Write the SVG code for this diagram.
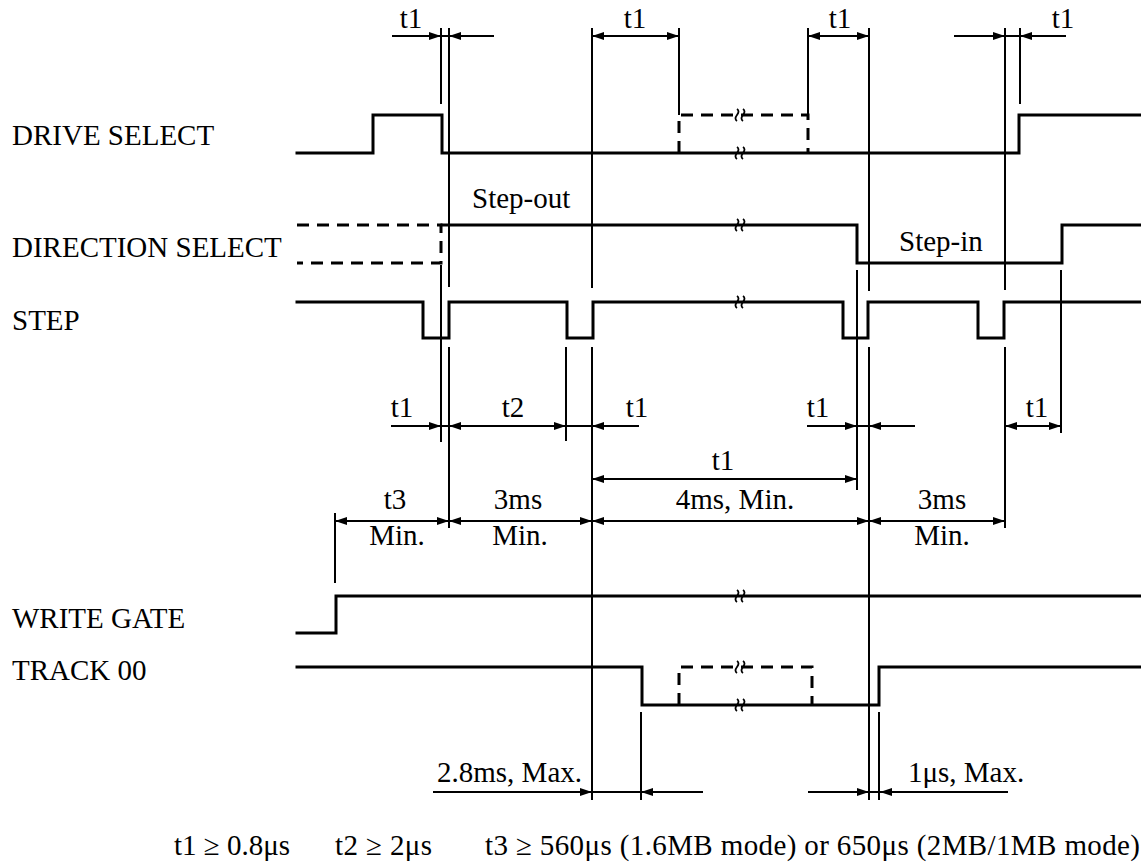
<svg xmlns="http://www.w3.org/2000/svg" width="1141" height="866" viewBox="0 0 1141 866">
<style>
text{font-family:"Liberation Serif","Times New Roman",serif;font-size:29px;fill:#000}
.m{text-anchor:middle}
.e{text-anchor:end}
.w{fill:none;stroke:#000;stroke-width:3;stroke-linejoin:miter;stroke-linecap:square}
.d{fill:none;stroke:#000;stroke-width:3;stroke-dasharray:12 8}
.v{stroke:#000;stroke-width:2}
.a{stroke:#000;stroke-width:2;marker-end:url(#ah)}
.b{stroke:#000;stroke-width:2;marker-start:url(#ah);marker-end:url(#ah)}
.br{fill:none;stroke:#000;stroke-width:1.8}
</style>
<defs>
<marker id="ah" viewBox="0 0 12 8" refX="12" refY="4" markerWidth="12" markerHeight="8" markerUnits="userSpaceOnUse" orient="auto-start-reverse">
<path d="M0,0 L12,4 L0,8 z" fill="#000"/>
</marker>
<g id="brk"><path class="br" d="M-3,-6 q3,2 0,6 q-3,4 0,6 M3,-6 q3,2 0,6 q-3,4 0,6"/></g>
</defs>
<rect width="1141" height="866" fill="#fff"/>

<g id="drive-select">
<text x="12" y="145">DRIVE SELECT</text>
<path class="w" d="M297,153 H373 V115 H442 V153 H1019 V115 H1141"/>
<path class="d" d="M679,153 V115 H808 V153"/>
<use href="#brk" x="740" y="115"/>
<use href="#brk" x="740" y="153"/>
</g>

<g id="direction-select">
<text x="12" y="257">DIRECTION SELECT</text>
<path class="d" d="M297,225 H441 V263 H297"/>
<path class="w" d="M442,225 H857 V263 H1062 V225 H1141"/>
<use href="#brk" x="740" y="225"/>
<text x="472" y="208">Step-out</text>
<text x="899" y="251">Step-in</text>
</g>

<g id="step">
<text x="12" y="330">STEP</text>
<path class="w" d="M297,302 H423 V338 H449 V302 H567 V338 H593 V302 H843 V338 H868 V302 H978 V338 H1004 V302 H1141"/>
<use href="#brk" x="740" y="302"/>
</g>

<g id="write-gate">
<text x="12" y="628">WRITE GATE</text>
<path class="w" d="M297,633 H336 V596 H1141"/>
<use href="#brk" x="740" y="596"/>
</g>

<g id="track-00">
<text x="12" y="680">TRACK 00</text>
<path class="w" d="M297,667 H642 V705 H879 V667 H1141"/>
<path class="d" d="M679,705 V667 H812 V705"/>
<use href="#brk" x="740" y="667"/>
<use href="#brk" x="740" y="705"/>
</g>

<g id="connectors">
<line class="v" x1="441" y1="28" x2="441" y2="104"/>
<line class="v" x1="441" y1="265" x2="441" y2="442"/>
<line class="v" x1="449" y1="28" x2="449" y2="287"/>
<line class="v" x1="449" y1="347" x2="449" y2="528"/>
<line class="v" x1="566" y1="347" x2="566" y2="441"/>
<line class="v" x1="592" y1="28" x2="592" y2="288"/>
<line class="v" x1="592" y1="347" x2="592" y2="800"/>
<line class="v" x1="679" y1="28" x2="679" y2="115"/>
<line class="v" x1="808" y1="28" x2="808" y2="115"/>
<line class="v" x1="857" y1="270" x2="857" y2="490"/>
<line class="v" x1="869" y1="28" x2="869" y2="291"/>
<line class="v" x1="869" y1="347" x2="869" y2="800"/>
<line class="v" x1="1005" y1="28" x2="1005" y2="290"/>
<line class="v" x1="1005" y1="347" x2="1005" y2="528"/>
<line class="v" x1="1020" y1="28" x2="1020" y2="104"/>
<line class="v" x1="1061" y1="270" x2="1061" y2="433"/>
<line class="v" x1="335" y1="513" x2="335" y2="583"/>
<line class="v" x1="641" y1="712" x2="641" y2="800"/>
<line class="v" x1="879" y1="712" x2="879" y2="800"/>

<line class="a" x1="392" y1="36" x2="441" y2="36"/>
<line class="v" x1="441" y1="36" x2="449" y2="36"/>
<line class="a" x1="494" y1="36" x2="449" y2="36"/>
<line class="b" x1="592" y1="36" x2="679" y2="36"/>
<line class="b" x1="808" y1="36" x2="869" y2="36"/>
<line class="a" x1="954" y1="36" x2="1005" y2="36"/>
<line class="v" x1="1005" y1="36" x2="1020" y2="36"/>
<line class="a" x1="1066" y1="36" x2="1020" y2="36"/>

<line class="a" x1="391" y1="426" x2="441" y2="426"/>
<line class="v" x1="441" y1="426" x2="449" y2="426"/>
<line class="b" x1="449" y1="426" x2="566" y2="426"/>
<line class="v" x1="566" y1="426" x2="592" y2="426"/>
<line class="a" x1="639" y1="426" x2="592" y2="426"/>
<line class="a" x1="807" y1="426" x2="857" y2="426"/>
<line class="v" x1="857" y1="426" x2="869" y2="426"/>
<line class="a" x1="915" y1="426" x2="869" y2="426"/>
<line class="b" x1="1005" y1="426" x2="1061" y2="426"/>

<line class="b" x1="592" y1="479" x2="857" y2="479"/>

<line class="b" x1="335" y1="521" x2="449" y2="521"/>
<line class="b" x1="449" y1="521" x2="592" y2="521"/>
<line class="b" x1="592" y1="521" x2="869" y2="521"/>
<line class="b" x1="869" y1="521" x2="1005" y2="521"/>

<line class="a" x1="433" y1="792" x2="592" y2="792"/>
<line class="v" x1="592" y1="792" x2="641" y2="792"/>
<line class="a" x1="703" y1="792" x2="641" y2="792"/>
<line class="a" x1="808" y1="792" x2="869" y2="792"/>
<line class="v" x1="869" y1="792" x2="879" y2="792"/>
<line class="a" x1="1008" y1="792" x2="880" y2="792"/>
</g>

<g id="labels">
<text class="m" x="411" y="28">t1</text>
<text class="m" x="635" y="28">t1</text>
<text class="m" x="840" y="28">t1</text>
<text class="m" x="1063" y="28">t1</text>

<text class="m" x="402" y="417">t1</text>
<text class="m" x="513" y="417">t2</text>
<text class="m" x="637" y="417">t1</text>
<text class="m" x="818" y="417">t1</text>
<text class="m" x="1037" y="417">t1</text>

<text class="m" x="723" y="470">t1</text>

<text class="m" x="395" y="509">t3</text>
<text class="m" x="518" y="509">3ms</text>
<text class="m" x="735" y="509">4ms, Min.</text>
<text class="m" x="942" y="509">3ms</text>
<text class="m" x="397" y="545">Min.</text>
<text class="m" x="520" y="545">Min.</text>
<text class="m" x="942" y="545">Min.</text>

<text x="437" y="782">2.8ms, Max.</text>
<text x="908" y="782">1μs, Max.</text>

<text class="e" x="290" y="855">t1 ≥ 0.8μs</text>
<text x="335" y="855" textLength="97" lengthAdjust="spacing">t2 ≥ 2μs</text>
<text x="485" y="855" textLength="655" lengthAdjust="spacing">t3 ≥ 560μs (1.6MB mode) or 650μs (2MB/1MB mode)</text>
</g>
</svg>
